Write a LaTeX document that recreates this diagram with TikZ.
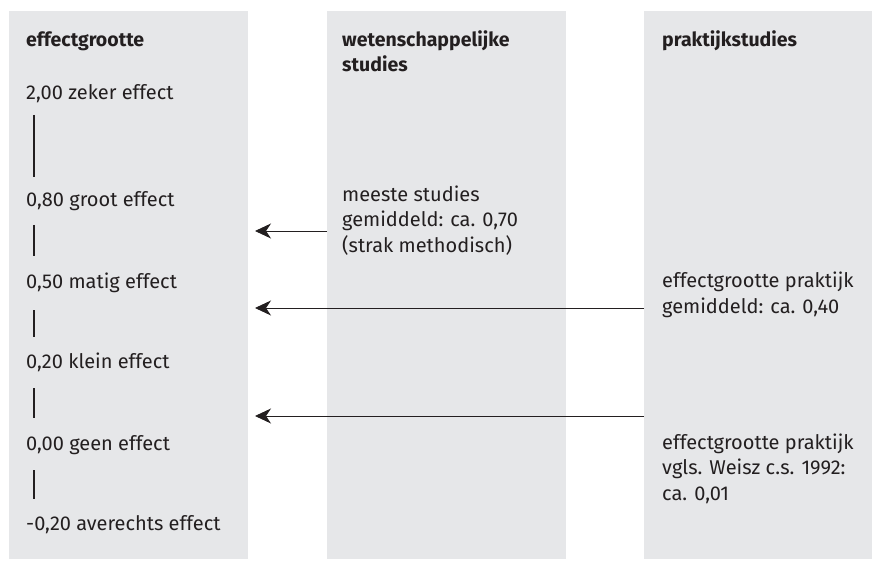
\documentclass[tikz,border=0pt]{standalone}
\usepackage{fontspec}
\setmainfont{Fira Sans}
\usetikzlibrary{arrows.meta}
\definecolor{colbg}{HTML}{E6E7E9}
\definecolor{ink}{HTML}{231F20}
\begin{document}
\begin{tikzpicture}[x=1pt,y=-1pt,
  colbox/.style={fill=colbg, draw=none, anchor=north west, inner sep=0pt, minimum height=548pt},
  lbl/.style={anchor=base west, inner sep=0pt, text=ink, font=\fontsize{20}{25.5}\selectfont, align=left},
  hdr/.style={lbl, font=\fontsize{19.5}{25}\selectfont\bfseries},
  vline/.style={draw=ink, line width=1.2pt},
  arr/.style={draw=ink, line width=0.9pt, -{Stealth[length=16pt,width=15pt,inset=5pt]}}]
\useasboundingbox (0,0) rectangle (872,561);
% columns
\node[colbox, minimum width=239pt] (c1) at (9,11) {};
\node[colbox, minimum width=239pt] (c2) at (327,11) {};
\node[colbox, minimum width=228pt] (c3) at (644,11) {};
% headers (base anchor = last line)
\node[hdr] (h1) at (26,47) {effectgrootte};
\node[hdr] (h2) at (342,72) {wetenschappelijke\\studies};
\node[hdr] (h3) at (662,47) {praktijkstudies};
% scale
\node[lbl] (s1) at (26,100) {2,00 zeker effect};
\node[lbl] (s2) at (26,207) {0,80 groot effect};
\node[lbl] (s3) at (26,288) {0,50 matig effect};
\node[lbl] (s4) at (26,368) {0,20 klein effect};
\node[lbl] (s5) at (26,450) {0,00 geen effect};
\node[lbl] (s6) at (26,530) {-0,20 averechts effect};
\draw[vline] (34,115) -- (34,177);
\draw[vline] (34,225) -- (34,256);
\draw[vline] (34,310) -- (34,337);
\draw[vline] (34,388) -- (34,418);
\draw[vline] (34,470) -- (34,499);
% column texts
\node[lbl] (w1) at (342,252) {meeste studies\\gemiddeld: ca. 0,70\\(strak methodisch)};
\node[lbl] (p1) at (662,313) {effectgrootte praktijk\\gemiddeld: ca. 0,40};
\node[lbl] (p2) at (662,500) {effectgrootte praktijk\\vgls. Weisz c.s. 1992:\\ca. 0,01};
% arrows
\coordinate (t1) at (255,231);
\coordinate (t2) at (255,308);
\coordinate (t3) at (255,416);
\draw[arr] (t1 -| c2.west) -- (t1);
\draw[arr] (t2 -| c3.west) -- (t2);
\draw[arr] (t3 -| c3.west) -- (t3);
\end{tikzpicture}
\end{document}
